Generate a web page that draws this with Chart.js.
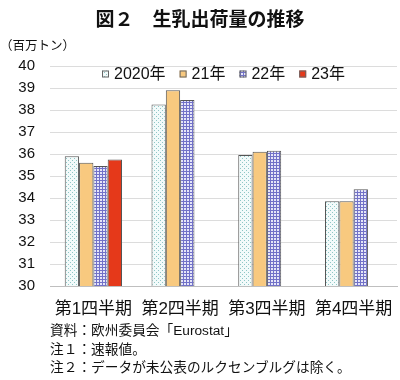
<!DOCTYPE html>
<html><head><meta charset="utf-8">
<script src="https://cdn.jsdelivr.net/npm/chart.js@4"></script>
<style>
html,body{margin:0;padding:0;background:#fff;}
#wrap{position:relative;width:400px;height:380px;overflow:hidden;font-family:'Liberation Sans','Noto Sans CJK JP',sans-serif;color:#111;}
#c{position:absolute;left:0;top:0;}
.t{position:absolute;white-space:nowrap;}
#title{left:0;width:400px;text-align:center;top:4px;font-size:19px;font-weight:bold;}
#unit{left:0;top:35px;font-size:12.5px;}
.note{left:50px;font-size:13.7px;}
</style></head>
<body><div id="wrap">
<canvas id="c" width="400" height="380"></canvas>
<div class="t" id="title">図２　生乳出荷量の推移</div>
<div class="t" id="unit">（百万トン）</div>
<div class="t note" style="top:319px">資料：欧州委員会「Eurostat」</div>
<div class="t note" style="top:338px">注１：速報値。</div>
<div class="t note" style="top:356px">注２：データが未公表のルクセンブルグは除く。</div>
</div>
<script>
const categories = ['第1四半期','第2四半期','第3四半期','第4四半期'];
const seriesNames = ['2020年','21年','22年','23年'];
const y2020 = [35.9, 38.25, 35.95, 33.85];
const y2021 = [35.6, 38.9, 36.1, 33.85];
const y2022 = [35.45, 38.45, 36.15, 34.4];
const y2023 = [35.75, null, null, null];
const yTicks = [30,31,32,33,34,35,36,37,38,39,40];

function makePattern(w,h,draw){
  const cv=document.createElement('canvas');cv.width=w;cv.height=h;
  const g=cv.getContext('2d');draw(g);
  return document.getElementById('c').getContext('2d').createPattern(cv,'repeat');
}
const pat2020 = makePattern(4,4,g=>{
  g.fillStyle='#f2fafa';g.fillRect(0,0,4,4);
  g.fillStyle='#8ec6c6';g.fillRect(0,0,1,1);g.fillRect(2,2,1,1);
});
const pat2022 = makePattern(3,3,g=>{
  g.fillStyle='#e6e6f8';g.fillRect(0,0,3,3);
  g.fillStyle='#7272c8';g.fillRect(0,0,3,1);g.fillRect(0,0,1,3);
});
const fills=[pat2020,'#f8c97f',pat2022,'#e5391a'];
const dataArr=[y2020,y2021,y2022,y2023];
const FONT="'Liberation Sans','Noto Sans CJK JP',sans-serif";

const legendPlugin={
  id:'inLegend',
  afterDraw(chart){
    const ctx=chart.ctx, ca=chart.chartArea;
    ctx.save();
    ctx.font='16px '+FONT;
    const box=7, gap=5, sep=14;
    const items=chart.data.datasets.map(d=>({d,w:box+gap+ctx.measureText(d.label).width}));
    const total=items.reduce((s,i)=>s+i.w,0)+sep*(items.length-1);
    let x=(ca.left+ca.right)/2-total/2;
    const yc=ca.top+8;
    items.forEach(it=>{
      ctx.fillStyle=it.d.backgroundColor;
      ctx.fillRect(x,yc-box/2,box,box);
      ctx.strokeStyle='#666';ctx.lineWidth=1;
      ctx.strokeRect(x+0.5,yc-box/2+0.5,box-1,box-1);
      ctx.fillStyle='#111';ctx.textBaseline='middle';ctx.textAlign='left';
      ctx.fillText(it.d.label,x+box+gap,yc+1);
      x+=it.w+sep;
    });
    ctx.restore();
  }
};

new Chart(document.getElementById('c'),{
  type:'bar',
  data:{labels:categories,datasets:seriesNames.map((n,i)=>({
    label:n,data:dataArr[i],backgroundColor:fills[i],borderColor:'#555',borderWidth:1,
    categoryPercentage:0.66,barPercentage:1.0
  }))},
  options:{
    responsive:false,animation:false,
    layout:{padding:{left:0,top:66,right:3,bottom:64}},
    plugins:{legend:{display:false},tooltip:{enabled:false},title:{display:false}},
    scales:{
      x:{grid:{display:false},border:{display:true,color:'#bfbfbf'},
         ticks:{color:'#111',font:{family:FONT,size:17},padding:5,maxRotation:0,autoSkip:false},
         afterFit(s){s.height=30;}},
      y:{min:30,max:40,
         afterBuildTicks(s){s.ticks=yTicks.map(v=>({value:v}));},
         grid:{color:'#dcdcdc',drawTicks:false},border:{display:false},
         ticks:{color:'#111',font:{family:FONT,size:15},padding:15},
         afterFit(s){s.width=50;}}
    }
  },
  plugins:[legendPlugin]
});
</script>
</body></html>
